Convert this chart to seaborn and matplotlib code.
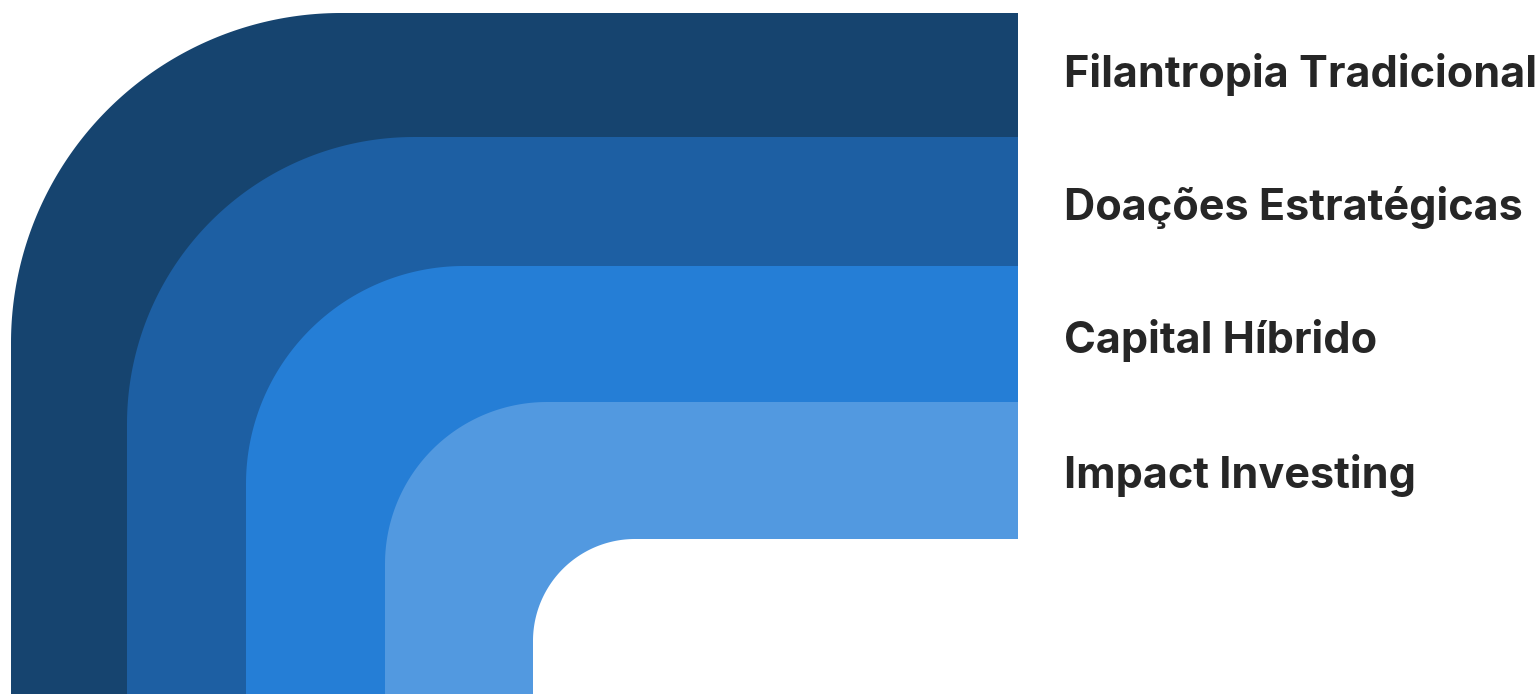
import numpy as np
import matplotlib
matplotlib.use("Agg")
import matplotlib.pyplot as plt
from matplotlib.patches import Polygon
import seaborn as sns

# ---- data ----
categories = ["Filantropia Tradicional", "Doações Estratégicas", "Capital Híbrido", "Impact Investing"]
colors = ["#16446F", "#1D5FA3", "#257ED6", "#5299E0"]

# ---- layout (pixel coordinates) ----
W, H = 1540, 694
right_edge = 1018
layer_left = [11, 127, 246, 385, 533]      # outer edge of each layer + inner hole
layer_top = [13, 137, 266, 402, 539]
layer_radius = [330, 287, 218, 162, 102]
label_x = 1064
label_baseline = [87, 220, 353, 488]

sns.set_theme(style="white")
plt.rcParams["font.family"] = ["Inter", "DejaVu Sans"]

fig = plt.figure(figsize=(W / 100, H / 100), dpi=100)
ax = fig.add_axes([0, 0, 1, 1])
ax.set_xlim(0, W)
ax.set_ylim(H, 0)
ax.axis("off")


def corner_shape(x0, y0, r):
    theta = np.linspace(np.pi, 1.5 * np.pi, 120)
    cx, cy = x0 + r, y0 + r
    arc = np.column_stack([cx + r * np.cos(theta), cy + r * np.sin(theta)])
    pts = [(x0, H + 10)] + [tuple(p) for p in arc] + [(right_edge, y0), (right_edge, H + 10)]
    return np.array(pts)


fills = colors + ["white"]
for x0, y0, r, c in zip(layer_left, layer_top, layer_radius, fills):
    ax.add_patch(Polygon(corner_shape(x0, y0, r), closed=True, facecolor=c,
                         edgecolor="none", antialiased=True))

for name, yb in zip(categories, label_baseline):
    ax.text(label_x, yb, name, fontsize=31.1, fontweight="bold", color="#262626",
            ha="left", va="baseline")

fig.savefig("out.png", dpi=100, facecolor="white")
